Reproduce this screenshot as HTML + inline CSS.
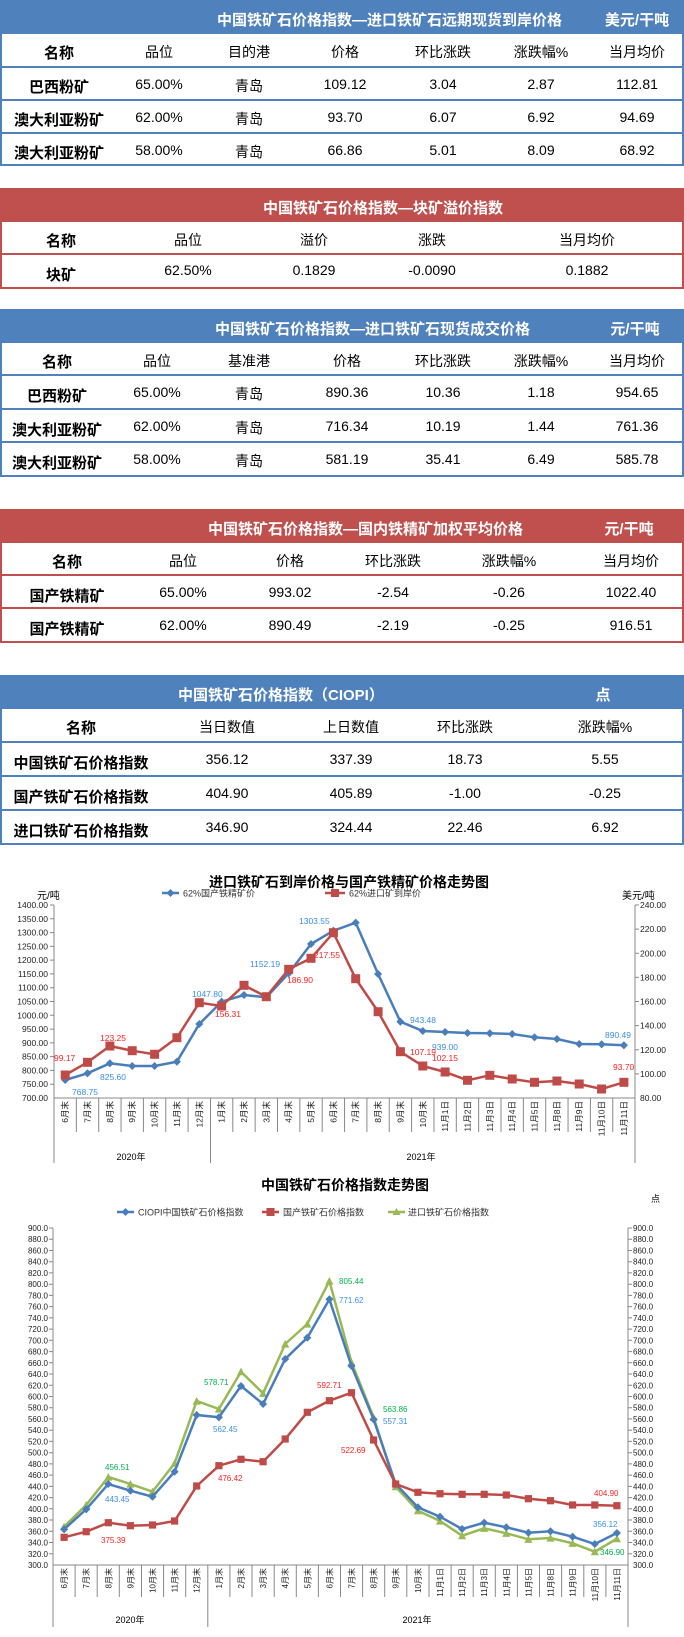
<!DOCTYPE html>
<html><head><meta charset="utf-8">
<style>
body{margin:0;width:684px;height:1637px;position:relative;background:#fff;font-family:"Liberation Sans","Noto Sans CJK SC",sans-serif;overflow:hidden}
.t{position:absolute;left:0;width:684px;box-sizing:border-box;border:2px solid #4F81BD;border-top:none}
.r{border-color:#C0504D}
.h{position:absolute;left:-2px;width:684px;top:0;height:34px;background:#4F81BD;color:#fff;font-weight:bold;font-size:15px}
.r .h{background:#C0504D}
.row{position:absolute;left:0;width:680px;border-top:2px solid #4F81BD;font-size:14px;color:#000}
.r .row{border-top-color:#C0504D}
.row.f{border-top:none}
.c{position:absolute;width:160px;margin-left:-80px;text-align:center;white-space:nowrap}
.b{font-weight:bold;font-size:15px}
svg text{font-family:"Liberation Sans","Noto Sans CJK SC",sans-serif}
</style></head><body>

<!-- Table 1 -->
<div class="t" style="top:0;height:166px">
<div class="h"><span class="c" style="left:297px;top:9px">中国铁矿石价格指数—进口铁矿石远期现货到岸价格</span><span class="c" style="left:637px;top:9px">美元/干吨</span></div>
<div class="row f" style="top:34px;height:33px"><span class="c b" style="left:57px;top:8px">名称</span><span class="c" style="left:157px;top:8px">品位</span><span class="c" style="left:247px;top:8px">目的港</span><span class="c" style="left:343px;top:8px">价格</span><span class="c" style="left:441px;top:8px">环比涨跌</span><span class="c" style="left:539px;top:8px">涨跌幅%</span><span class="c" style="left:635px;top:8px">当月均价</span></div>
<div class="row" style="top:66px;height:32px"><span class="c b" style="left:57px;top:8px">巴西粉矿</span><span class="c" style="left:157px;top:8px">65.00%</span><span class="c" style="left:247px;top:8px">青岛</span><span class="c" style="left:343px;top:8px">109.12</span><span class="c" style="left:441px;top:8px">3.04</span><span class="c" style="left:539px;top:8px">2.87</span><span class="c" style="left:635px;top:8px">112.81</span></div>
<div class="row" style="top:99px;height:32px"><span class="c b" style="left:57px;top:8px">澳大利亚粉矿</span><span class="c" style="left:157px;top:8px">62.00%</span><span class="c" style="left:247px;top:8px">青岛</span><span class="c" style="left:343px;top:8px">93.70</span><span class="c" style="left:441px;top:8px">6.07</span><span class="c" style="left:539px;top:8px">6.92</span><span class="c" style="left:635px;top:8px">94.69</span></div>
<div class="row" style="top:132px;height:32px"><span class="c b" style="left:57px;top:8px">澳大利亚粉矿</span><span class="c" style="left:157px;top:8px">58.00%</span><span class="c" style="left:247px;top:8px">青岛</span><span class="c" style="left:343px;top:8px">66.86</span><span class="c" style="left:441px;top:8px">5.01</span><span class="c" style="left:539px;top:8px">8.09</span><span class="c" style="left:635px;top:8px">68.92</span></div>
</div>

<!-- Table 2 -->
<div class="t r" style="top:188px;height:101px">
<div class="h"><span class="c" style="left:343px;top:9px">中国铁矿石价格指数—块矿溢价指数</span></div>
<div class="row f" style="top:34px;height:32px"><span class="c b" style="left:59px;top:8px">名称</span><span class="c" style="left:186px;top:8px">品位</span><span class="c" style="left:312px;top:8px">溢价</span><span class="c" style="left:430px;top:8px">涨跌</span><span class="c" style="left:585px;top:8px">当月均价</span></div>
<div class="row" style="top:65px;height:32px"><span class="c b" style="left:59px;top:9px">块矿</span><span class="c" style="left:186px;top:7px">62.50%</span><span class="c" style="left:312px;top:7px">0.1829</span><span class="c" style="left:430px;top:7px">-0.0090</span><span class="c" style="left:585px;top:7px">0.1882</span></div>
</div>

<!-- Table 3 -->
<div class="t" style="top:309px;height:168px">
<div class="h"><span class="c" style="left:295px;top:9px">中国铁矿石价格指数—进口铁矿石现货成交价格</span><span class="c" style="left:635px;top:9px">元/干吨</span></div>
<div class="row f" style="top:34px;height:32px"><span class="c b" style="left:55px;top:8px">名称</span><span class="c" style="left:155px;top:8px">品位</span><span class="c" style="left:247px;top:8px">基准港</span><span class="c" style="left:345px;top:8px">价格</span><span class="c" style="left:441px;top:8px">环比涨跌</span><span class="c" style="left:539px;top:8px">涨跌幅%</span><span class="c" style="left:635px;top:8px">当月均价</span></div>
<div class="row" style="top:65px;height:32px"><span class="c b" style="left:55px;top:9px">巴西粉矿</span><span class="c" style="left:155px;top:8px">65.00%</span><span class="c" style="left:247px;top:8px">青岛</span><span class="c" style="left:345px;top:8px">890.36</span><span class="c" style="left:441px;top:8px">10.36</span><span class="c" style="left:539px;top:8px">1.18</span><span class="c" style="left:635px;top:8px">954.65</span></div>
<div class="row" style="top:99px;height:32px"><span class="c b" style="left:55px;top:9px">澳大利亚粉矿</span><span class="c" style="left:155px;top:8px">62.00%</span><span class="c" style="left:247px;top:8px">青岛</span><span class="c" style="left:345px;top:8px">716.34</span><span class="c" style="left:441px;top:8px">10.19</span><span class="c" style="left:539px;top:8px">1.44</span><span class="c" style="left:635px;top:8px">761.36</span></div>
<div class="row" style="top:132px;height:32px"><span class="c b" style="left:55px;top:9px">澳大利亚粉矿</span><span class="c" style="left:155px;top:8px">58.00%</span><span class="c" style="left:247px;top:8px">青岛</span><span class="c" style="left:345px;top:8px">581.19</span><span class="c" style="left:441px;top:8px">35.41</span><span class="c" style="left:539px;top:8px">6.49</span><span class="c" style="left:635px;top:8px">585.78</span></div>
</div>

<!-- Table 4 -->
<div class="t r" style="top:509px;height:134px">
<div class="h"><span class="c" style="left:288px;top:9px">中国铁矿石价格指数—国内铁精矿加权平均价格</span><span class="c" style="left:629px;top:9px">元/干吨</span></div>
<div class="row f" style="top:34px;height:32px"><span class="c b" style="left:65px;top:8px">名称</span><span class="c" style="left:181px;top:8px">品位</span><span class="c" style="left:288px;top:8px">价格</span><span class="c" style="left:391px;top:8px">环比涨跌</span><span class="c" style="left:507px;top:8px">涨跌幅%</span><span class="c" style="left:629px;top:8px">当月均价</span></div>
<div class="row" style="top:65px;height:32px"><span class="c b" style="left:65px;top:9px">国产铁精矿</span><span class="c" style="left:181px;top:8px">65.00%</span><span class="c" style="left:288px;top:8px">993.02</span><span class="c" style="left:391px;top:8px">-2.54</span><span class="c" style="left:507px;top:8px">-0.26</span><span class="c" style="left:629px;top:8px">1022.40</span></div>
<div class="row" style="top:98px;height:32px"><span class="c b" style="left:65px;top:9px">国产铁精矿</span><span class="c" style="left:181px;top:8px">62.00%</span><span class="c" style="left:288px;top:8px">890.49</span><span class="c" style="left:391px;top:8px">-2.19</span><span class="c" style="left:507px;top:8px">-0.25</span><span class="c" style="left:629px;top:8px">916.51</span></div>
</div>

<!-- Table 5 -->
<div class="t" style="top:675px;height:170px">
<div class="h"><span class="c" style="left:258px;top:9px">中国铁矿石价格指数（CIOPI）</span><span class="c" style="left:603px;top:9px">点</span></div>
<div class="row f" style="top:34px;height:32px"><span class="c b" style="left:79px;top:8px">名称</span><span class="c" style="left:225px;top:8px">当日数值</span><span class="c" style="left:349px;top:8px">上日数值</span><span class="c" style="left:463px;top:8px">环比涨跌</span><span class="c" style="left:603px;top:8px">涨跌幅%</span></div>
<div class="row" style="top:66px;height:32px"><span class="c b" style="left:79px;top:9px">中国铁矿石价格指数</span><span class="c" style="left:225px;top:8px">356.12</span><span class="c" style="left:349px;top:8px">337.39</span><span class="c" style="left:463px;top:8px">18.73</span><span class="c" style="left:603px;top:8px">5.55</span></div>
<div class="row" style="top:100px;height:32px"><span class="c b" style="left:79px;top:9px">国产铁矿石价格指数</span><span class="c" style="left:225px;top:8px">404.90</span><span class="c" style="left:349px;top:8px">405.89</span><span class="c" style="left:463px;top:8px">-1.00</span><span class="c" style="left:603px;top:8px">-0.25</span></div>
<div class="row" style="top:134px;height:32px"><span class="c b" style="left:79px;top:9px">进口铁矿石价格指数</span><span class="c" style="left:225px;top:8px">346.90</span><span class="c" style="left:349px;top:8px">324.44</span><span class="c" style="left:463px;top:8px">22.46</span><span class="c" style="left:603px;top:8px">6.92</span></div>
</div>

<svg width="684" height="1637" style="position:absolute;left:0;top:0" xmlns="http://www.w3.org/2000/svg">
<defs>
<marker id="dB" viewBox="-5 -5 10 10" markerWidth="9" markerHeight="9" markerUnits="userSpaceOnUse"><path d="M0 -4.5 L4.5 0 L0 4.5 L-4.5 0Z" fill="#4A7EBB"/></marker>
<marker id="sR" viewBox="-5 -5 10 10" markerWidth="10" markerHeight="10" markerUnits="userSpaceOnUse"><rect x="-4.5" y="-4.5" width="9" height="9" fill="#BE4B48"/></marker>
<marker id="sR2" viewBox="-5 -5 10 10" markerWidth="8" markerHeight="8" markerUnits="userSpaceOnUse"><rect x="-4.5" y="-4.5" width="9" height="9" fill="#BE4B48"/></marker>
<marker id="tG" viewBox="-5 -5 10 10" markerWidth="9" markerHeight="9" markerUnits="userSpaceOnUse"><path d="M0 -4.5 L4.5 4 L-4.5 4Z" fill="#98B954"/></marker>
</defs>

<!-- ===== Chart 1 ===== -->
<text x="349" y="887" font-size="14" font-weight="bold" text-anchor="middle">进口铁矿石到岸价格与国产铁精矿价格走势图</text>
<line x1="162" y1="893" x2="179" y2="893" stroke="#4A7EBB" stroke-width="2.5" marker-mid="url(#dB)"/><path d="M170.5 889 L174.5 893 L170.5 897 L166.5 893Z" fill="#4A7EBB"/>
<text x="183" y="896.5" font-size="9" fill="#333">62%国产铁精矿价</text>
<line x1="325" y1="893" x2="345" y2="893" stroke="#BE4B48" stroke-width="2.5"/><rect x="331" y="889" width="8" height="8" fill="#BE4B48"/>
<text x="349" y="896.5" font-size="9" fill="#333">62%进口矿到岸价</text>
<text x="37" y="899" font-size="10">元/吨</text>
<text x="622" y="899" font-size="10">美元/吨</text>
<g stroke="#888" stroke-width="1" fill="none">
<line x1="54" y1="905" x2="54" y2="1163"/><line x1="635" y1="905" x2="635" y2="1163"/><line x1="54" y1="1098" x2="635" y2="1098"/>
<line x1="210.5" y1="1098" x2="210.5" y2="1163"/>
<path d="M50 905h4M50 918.8h4M50 932.6h4M50 946.4h4M50 960.1h4M50 973.9h4M50 987.7h4M50 1001.5h4M50 1015.3h4M50 1029.1h4M50 1042.9h4M50 1056.6h4M50 1070.4h4M50 1084.2h4"/>
<path d="M635 905h4M635 929.1h4M635 953.3h4M635 977.4h4M635 1001.5h4M635 1025.6h4M635 1049.8h4M635 1073.9h4"/>
<path d="M76.35 1098v34M98.7 1098v34M121.05 1098v34M143.4 1098v34M165.75 1098v34M188.1 1098v34M232.8 1098v34M255.15 1098v34M277.5 1098v34M299.85 1098v34M322.2 1098v34M344.55 1098v34M366.9 1098v34M389.25 1098v34M411.6 1098v34M433.95 1098v34M456.3 1098v34M478.65 1098v34M501 1098v34M523.35 1098v34M545.7 1098v34M568.05 1098v34M590.4 1098v34M612.75 1098v34"/>
</g>
<g font-size="8.5" text-anchor="end" fill="#222">
<text x="48" y="908">1400.00</text><text x="48" y="921.8">1350.00</text><text x="48" y="935.6">1300.00</text><text x="48" y="949.4">1250.00</text><text x="48" y="963.1">1200.00</text><text x="48" y="976.9">1150.00</text><text x="48" y="990.7">1100.00</text><text x="48" y="1004.5">1050.00</text><text x="48" y="1018.3">1000.00</text><text x="48" y="1032.1">950.00</text><text x="48" y="1045.9">900.00</text><text x="48" y="1059.6">850.00</text><text x="48" y="1073.4">800.00</text><text x="48" y="1087.2">750.00</text><text x="48" y="1101">700.00</text>
</g>
<g font-size="8.5" fill="#222">
<text x="640" y="908">240.00</text><text x="640" y="932.1">220.00</text><text x="640" y="956.3">200.00</text><text x="640" y="980.4">180.00</text><text x="640" y="1004.5">160.00</text><text x="640" y="1028.6">140.00</text><text x="640" y="1052.8">120.00</text><text x="640" y="1076.9">100.00</text><text x="640" y="1101">80.00</text>
</g>
<g font-size="8.5" text-anchor="end" fill="#222">
<text transform="translate(68.2,1101) rotate(-90)">6月末</text><text transform="translate(90.5,1101) rotate(-90)">7月末</text><text transform="translate(112.9,1101) rotate(-90)">8月末</text><text transform="translate(135.2,1101) rotate(-90)">9月末</text><text transform="translate(157.6,1101) rotate(-90)">10月末</text><text transform="translate(179.9,1101) rotate(-90)">11月末</text><text transform="translate(202.3,1101) rotate(-90)">12月末</text><text transform="translate(224.6,1101) rotate(-90)">1月末</text><text transform="translate(247,1101) rotate(-90)">2月末</text><text transform="translate(269.3,1101) rotate(-90)">3月末</text><text transform="translate(291.7,1101) rotate(-90)">4月末</text><text transform="translate(314,1101) rotate(-90)">5月末</text><text transform="translate(336.4,1101) rotate(-90)">6月末</text><text transform="translate(358.7,1101) rotate(-90)">7月末</text><text transform="translate(381.1,1101) rotate(-90)">8月末</text><text transform="translate(403.4,1101) rotate(-90)">9月末</text><text transform="translate(425.8,1101) rotate(-90)">10月末</text><text transform="translate(448.1,1101) rotate(-90)">11月1日</text><text transform="translate(470.5,1101) rotate(-90)">11月2日</text><text transform="translate(492.8,1101) rotate(-90)">11月3日</text><text transform="translate(515.2,1101) rotate(-90)">11月4日</text><text transform="translate(537.5,1101) rotate(-90)">11月5日</text><text transform="translate(559.9,1101) rotate(-90)">11月8日</text><text transform="translate(582.2,1101) rotate(-90)">11月9日</text><text transform="translate(604.6,1101) rotate(-90)">11月10日</text><text transform="translate(626.9,1101) rotate(-90)">11月11日</text>
</g>
<text x="131" y="1160" font-size="9" text-anchor="middle">2020年</text>
<text x="421" y="1160" font-size="9" text-anchor="middle">2021年</text>
<polyline fill="none" stroke="#4A7EBB" stroke-width="2.5" marker-start="url(#dB)" marker-mid="url(#dB)" marker-end="url(#dB)" points="65.2,1080 87.5,1073.3 109.9,1063.3 132.2,1066 154.6,1066 176.9,1061.7 199.3,1024 221.6,1001.7 244,995 266.3,997.3 288.7,973.3 311,944 333.4,930.7 355.7,922.7 378.1,974 400.4,1021.7 422.8,1031 445.1,1032 467.5,1033 489.8,1033.3 512.2,1034 534.5,1037.3 556.9,1039 579.2,1044 601.6,1044.3 623.9,1045.3"/>
<polyline fill="none" stroke="#BE4B48" stroke-width="2.5" marker-start="url(#sR)" marker-mid="url(#sR)" marker-end="url(#sR)" points="65.2,1075 87.5,1062.3 109.9,1046 132.2,1050.7 154.6,1054.3 176.9,1037.7 199.3,1002.7 221.6,1006 244,985.3 266.3,996.7 288.7,969.3 311,958.3 333.4,932.7 355.7,978.7 378.1,1011.7 400.4,1051.7 422.8,1066 445.1,1072 467.5,1080.3 489.8,1075.3 512.2,1079 534.5,1082.3 556.9,1081 579.2,1084 601.6,1089 623.9,1082.3"/>
<g font-size="8.5" fill="#3A8EE6">
<text x="72" y="1095">768.75</text><text x="100" y="1080">825.60</text><text x="192" y="997">1047.80</text><text x="250" y="967">1152.19</text><text x="299" y="924">1303.55</text><text x="410" y="1023">943.48</text><text x="432" y="1050">939.00</text><text x="605" y="1038">890.49</text>
</g>
<g font-size="8.5" fill="#FF2020">
<text x="54" y="1061">99.17</text><text x="100" y="1041">123.25</text><text x="215" y="1017">156.31</text><text x="287" y="983">186.90</text><text x="314" y="958">217.55</text><text x="410" y="1055">107.19</text><text x="432" y="1061">102.15</text><text x="613" y="1070">93.70</text>
</g>

<!-- ===== Chart 2 ===== -->
<text x="345" y="1190" font-size="14" font-weight="bold" text-anchor="middle">中国铁矿石价格指数走势图</text>
<text x="651" y="1202" font-size="9">点</text>
<line x1="117" y1="1212" x2="134" y2="1212" stroke="#4A7EBB" stroke-width="2.5"/><path d="M125.5 1208 L129.5 1212 L125.5 1216 L121.5 1212Z" fill="#4A7EBB"/>
<text x="138" y="1215.5" font-size="9" fill="#333">CIOPI中国铁矿石价格指数</text>
<line x1="262" y1="1212" x2="279" y2="1212" stroke="#BE4B48" stroke-width="2.5"/><rect x="266.5" y="1208" width="8" height="8" fill="#BE4B48"/>
<text x="283" y="1215.5" font-size="9" fill="#333">国产铁矿石价格指数</text>
<line x1="388" y1="1212" x2="405" y2="1212" stroke="#98B954" stroke-width="2.5"/><path d="M396.5 1208 L400.5 1215 L392.5 1215Z" fill="#98B954"/>
<text x="408" y="1215.5" font-size="9" fill="#333">进口铁矿石价格指数</text>
<g stroke="#888" stroke-width="1" fill="none">
<line x1="53" y1="1228" x2="53" y2="1627"/><line x1="628" y1="1228" x2="628" y2="1627"/><line x1="53" y1="1565" x2="628" y2="1565"/>
<line x1="207.8" y1="1565" x2="207.8" y2="1627"/>
<path d="M49 1228h4M49 1239.2h4M49 1250.5h4M49 1261.7h4M49 1272.9h4M49 1284.2h4M49 1295.4h4M49 1306.6h4M49 1317.9h4M49 1329.1h4M49 1340.3h4M49 1351.6h4M49 1362.8h4M49 1374h4M49 1385.3h4M49 1396.5h4M49 1407.7h4M49 1418.9h4M49 1430.2h4M49 1441.4h4M49 1452.7h4M49 1463.9h4M49 1475.1h4M49 1486.4h4M49 1497.6h4M49 1508.8h4M49 1520h4M49 1531.3h4M49 1542.5h4M49 1553.8h4"/>
<path d="M628 1228h4M628 1239.2h4M628 1250.5h4M628 1261.7h4M628 1272.9h4M628 1284.2h4M628 1295.4h4M628 1306.6h4M628 1317.9h4M628 1329.1h4M628 1340.3h4M628 1351.6h4M628 1362.8h4M628 1374h4M628 1385.3h4M628 1396.5h4M628 1407.7h4M628 1418.9h4M628 1430.2h4M628 1441.4h4M628 1452.7h4M628 1463.9h4M628 1475.1h4M628 1486.4h4M628 1497.6h4M628 1508.8h4M628 1520h4M628 1531.3h4M628 1542.5h4M628 1553.8h4"/>
<path d="M75.1 1565v32M97.2 1565v32M119.3 1565v32M141.5 1565v32M163.6 1565v32M185.7 1565v32M229.9 1565v32M252 1565v32M274.2 1565v32M296.3 1565v32M318.4 1565v32M340.5 1565v32M362.6 1565v32M384.7 1565v32M406.8 1565v32M429 1565v32M451.1 1565v32M473.2 1565v32M495.3 1565v32M517.4 1565v32M539.5 1565v32M561.6 1565v32M583.8 1565v32M605.9 1565v32"/>
</g>
<g font-size="8" text-anchor="end" fill="#222">
<text x="48" y="1231">900.0</text><text x="48" y="1242.2">880.0</text><text x="48" y="1253.5">860.0</text><text x="48" y="1264.7">840.0</text><text x="48" y="1275.9">820.0</text><text x="48" y="1287.2">800.0</text><text x="48" y="1298.4">780.0</text><text x="48" y="1309.6">760.0</text><text x="48" y="1320.9">740.0</text><text x="48" y="1332.1">720.0</text><text x="48" y="1343.3">700.0</text><text x="48" y="1354.6">680.0</text><text x="48" y="1365.8">660.0</text><text x="48" y="1377">640.0</text><text x="48" y="1388.3">620.0</text><text x="48" y="1399.5">600.0</text><text x="48" y="1410.7">580.0</text><text x="48" y="1421.9">560.0</text><text x="48" y="1433.2">540.0</text><text x="48" y="1444.4">520.0</text><text x="48" y="1455.7">500.0</text><text x="48" y="1466.9">480.0</text><text x="48" y="1478.1">460.0</text><text x="48" y="1489.4">440.0</text><text x="48" y="1500.6">420.0</text><text x="48" y="1511.8">400.0</text><text x="48" y="1523">380.0</text><text x="48" y="1534.3">360.0</text><text x="48" y="1545.5">340.0</text><text x="48" y="1556.8">320.0</text><text x="48" y="1568">300.0</text>
</g>
<g font-size="8" fill="#222">
<text x="633" y="1231">900.0</text><text x="633" y="1242.2">880.0</text><text x="633" y="1253.5">860.0</text><text x="633" y="1264.7">840.0</text><text x="633" y="1275.9">820.0</text><text x="633" y="1287.2">800.0</text><text x="633" y="1298.4">780.0</text><text x="633" y="1309.6">760.0</text><text x="633" y="1320.9">740.0</text><text x="633" y="1332.1">720.0</text><text x="633" y="1343.3">700.0</text><text x="633" y="1354.6">680.0</text><text x="633" y="1365.8">660.0</text><text x="633" y="1377">640.0</text><text x="633" y="1388.3">620.0</text><text x="633" y="1399.5">600.0</text><text x="633" y="1410.7">580.0</text><text x="633" y="1421.9">560.0</text><text x="633" y="1433.2">540.0</text><text x="633" y="1444.4">520.0</text><text x="633" y="1455.7">500.0</text><text x="633" y="1466.9">480.0</text><text x="633" y="1478.1">460.0</text><text x="633" y="1489.4">440.0</text><text x="633" y="1500.6">420.0</text><text x="633" y="1511.8">400.0</text><text x="633" y="1523">380.0</text><text x="633" y="1534.3">360.0</text><text x="633" y="1545.5">340.0</text><text x="633" y="1556.8">320.0</text><text x="633" y="1568">300.0</text>
</g>
<g font-size="8" text-anchor="end" fill="#222">
<text transform="translate(67.1,1568) rotate(-90)">6月末</text><text transform="translate(89.2,1568) rotate(-90)">7月末</text><text transform="translate(111.3,1568) rotate(-90)">8月末</text><text transform="translate(133.4,1568) rotate(-90)">9月末</text><text transform="translate(155.5,1568) rotate(-90)">10月末</text><text transform="translate(177.6,1568) rotate(-90)">11月末</text><text transform="translate(199.7,1568) rotate(-90)">12月末</text><text transform="translate(221.9,1568) rotate(-90)">1月末</text><text transform="translate(244,1568) rotate(-90)">2月末</text><text transform="translate(266.1,1568) rotate(-90)">3月末</text><text transform="translate(288.2,1568) rotate(-90)">4月末</text><text transform="translate(310.3,1568) rotate(-90)">5月末</text><text transform="translate(332.4,1568) rotate(-90)">6月末</text><text transform="translate(354.5,1568) rotate(-90)">7月末</text><text transform="translate(376.6,1568) rotate(-90)">8月末</text><text transform="translate(398.7,1568) rotate(-90)">9月末</text><text transform="translate(420.9,1568) rotate(-90)">10月末</text><text transform="translate(443,1568) rotate(-90)">11月1日</text><text transform="translate(465.1,1568) rotate(-90)">11月2日</text><text transform="translate(487.2,1568) rotate(-90)">11月3日</text><text transform="translate(509.3,1568) rotate(-90)">11月4日</text><text transform="translate(531.4,1568) rotate(-90)">11月5日</text><text transform="translate(553.5,1568) rotate(-90)">11月8日</text><text transform="translate(575.6,1568) rotate(-90)">11月9日</text><text transform="translate(597.8,1568) rotate(-90)">11月10日</text><text transform="translate(619.9,1568) rotate(-90)">11月11日</text>
</g>
<text x="130" y="1623" font-size="9" text-anchor="middle">2020年</text>
<text x="417" y="1623" font-size="9" text-anchor="middle">2021年</text>
<polyline fill="none" stroke="#98B954" stroke-width="2.5" marker-start="url(#tG)" marker-mid="url(#tG)" marker-end="url(#tG)" points="64.1,1526.7 86.2,1505 108.3,1477 130.4,1484 152.5,1491.7 174.6,1463.3 196.7,1401 218.9,1409 241,1371.7 263.1,1393.3 285.2,1344 307.3,1324 329.4,1281 351.5,1362.3 373.6,1417.3 395.7,1486.7 417.9,1510.7 440,1521 462.1,1535.7 484.2,1528.3 506.3,1533.3 528.4,1539.3 550.5,1538 572.6,1543.3 594.8,1551.7 616.9,1538.7"/>
<polyline fill="none" stroke="#4A7EBB" stroke-width="2.5" marker-start="url(#dB)" marker-mid="url(#dB)" marker-end="url(#dB)" points="64.1,1529.3 86.2,1509.3 108.3,1484 130.4,1490.7 152.5,1496.7 174.6,1471.7 196.7,1415 218.9,1417.3 241,1386 263.1,1404 285.2,1359 307.3,1337.7 329.4,1299.3 351.5,1366 373.6,1419.3 395.7,1484 417.9,1507.3 440,1516.7 462.1,1529 484.2,1522.7 506.3,1527.3 528.4,1532.7 550.5,1531.3 572.6,1536.7 594.8,1544 616.9,1533"/>
<polyline fill="none" stroke="#BE4B48" stroke-width="2.5" marker-start="url(#sR2)" marker-mid="url(#sR2)" marker-end="url(#sR2)" points="64.1,1537.3 86.2,1531.7 108.3,1522.7 130.4,1525.7 152.5,1525 174.6,1521 196.7,1486 218.9,1465.7 241,1459.3 263.1,1461.7 285.2,1439 307.3,1412.3 329.4,1400.7 351.5,1392.7 373.6,1440 395.7,1484 417.9,1492.3 440,1493.7 462.1,1494.3 484.2,1494.3 506.3,1495 528.4,1498.7 550.5,1500.7 572.6,1505 594.8,1505 616.9,1505.7"/>
<g font-size="8" fill="#00B050">
<text x="105" y="1470">456.51</text><text x="204" y="1385">578.71</text><text x="339" y="1284">805.44</text><text x="383" y="1412">563.86</text><text x="600" y="1555">346.90</text>
</g>
<g font-size="8" fill="#3A8EE6">
<text x="105" y="1502">443.45</text><text x="213" y="1432">562.45</text><text x="339" y="1303">771.62</text><text x="383" y="1424">557.31</text><text x="593" y="1527">356.12</text>
</g>
<g font-size="8" fill="#FF2020">
<text x="101" y="1543">375.39</text><text x="218" y="1481">476.42</text><text x="317" y="1388">592.71</text><text x="341" y="1453">522.69</text><text x="594" y="1496">404.90</text>
</g>
</svg>
</body></html>
